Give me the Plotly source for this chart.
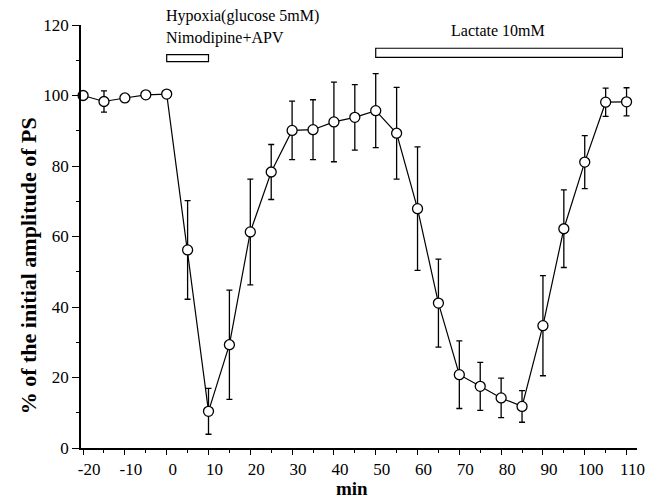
import plotly.graph_objects as go

# Time after start of recording (min)
minutes = [-20, -15, -10, -5, 0, 5, 10, 15, 20, 25, 30, 35, 40, 45, 50,
           55, 60, 65, 70, 75, 80, 85, 90, 95, 100, 105, 110]

# Population spike amplitude, % of initial value (mean)
ps_amplitude = [100.0, 98.3, 99.3, 100.2, 100.4, 56.2, 10.4, 29.3, 61.3, 78.3,
                90.1, 90.3, 92.5, 93.8, 95.7, 89.3, 67.9, 41.1, 20.8, 17.5,
                14.2, 11.8, 34.7, 62.2, 81.1, 98.1, 98.2]

# Standard error of the mean
ps_sem = [0.0, 3.0, 0.0, 0.0, 0.0, 14.0, 6.5, 15.5, 15.0, 7.8,
          8.3, 8.5, 11.3, 9.3, 10.5, 13.0, 17.5, 12.5, 9.6, 6.8,
          5.6, 4.5, 14.2, 11.0, 7.5, 4.0, 4.0]

x_ticks = list(range(-20, 111, 10))
y_ticks = list(range(0, 121, 20))

# Treatment periods (min)
hypoxia_period = [0, 10]
lactate_period = [50, 109]

SERIF = "Liberation Serif, Times New Roman, serif"
Y_MAX = 120

fig = go.Figure()
fig.add_trace(go.Scatter(
    x=minutes,
    y=ps_amplitude,
    mode="lines+markers",
    line=dict(color="black", width=1.2),
    marker=dict(symbol="circle", size=10, color="white",
                line=dict(color="black", width=1.3)),
    error_y=dict(type="data", array=ps_sem, visible=True,
                 color="black", thickness=1.3, width=3),
    showlegend=False,
    cliponaxis=False,
))

# Bars marking the drug application periods
fig.add_shape(type="rect", xref="x", yref="y",
              x0=hypoxia_period[0], x1=hypoxia_period[1], y0=109.6, y1=111.6,
              line=dict(color="black", width=1.2), fillcolor="white")
fig.add_shape(type="rect", xref="x", yref="y",
              x0=lactate_period[0], x1=lactate_period[1], y0=110.8, y1=113.4,
              line=dict(color="black", width=1.2), fillcolor="white")

label_font = dict(family=SERIF, size=16, color="black")
fig.add_annotation(text="Hypoxia(glucose 5mM)", xref="x", yref="paper",
                   x=-0.6, y=122.6 / Y_MAX, xanchor="left", yanchor="middle",
                   showarrow=False, font=label_font)
fig.add_annotation(text="Nimodipine+APV", xref="x", yref="paper",
                   x=-0.6, y=116.2 / Y_MAX, xanchor="left", yanchor="middle",
                   showarrow=False, font=label_font)
fig.add_annotation(text="Lactate 10mM", xref="x", yref="paper",
                   x=79.3, y=118.3 / Y_MAX, xanchor="center", yanchor="middle",
                   showarrow=False, font=label_font)

# Axis titles
fig.add_annotation(text="<b>% of the initial amplitude of PS</b>",
                   xref="paper", yref="paper", x=-0.095, y=0.43,
                   textangle=-90, showarrow=False,
                   xanchor="center", yanchor="middle",
                   font=dict(family=SERIF, size=22, color="black"))
fig.add_annotation(text="<b>min</b>", xref="paper", yref="paper",
                   x=0.488, y=-53 / 423, showarrow=False,
                   xanchor="center", yanchor="bottom",
                   font=dict(family=SERIF, size=19, color="black"))

fig.update_xaxes(
    range=[-20.5, 112.5],
    tickvals=x_ticks,
    ticktext=[str(v) for v in x_ticks],
    ticks="outside", ticklen=5, tickwidth=1.2, tickcolor="black",
    minor=dict(dtick=5, tick0=-20, ticks="outside", ticklen=3,
               tickwidth=1, tickcolor="black"),
    showline=True, linecolor="black", linewidth=1.5,
    showgrid=False, zeroline=False,
    ticklabelshift=6,
    ticklabelstandoff=0,
    tickfont=dict(family=SERIF, size=17, color="black"),
)
fig.update_yaxes(
    range=[0, Y_MAX],
    tickvals=y_ticks,
    ticktext=[str(v) for v in y_ticks],
    ticks="outside", ticklen=7, tickwidth=1.2, tickcolor="black",
    minor=dict(dtick=10, tick0=0, ticks="outside", ticklen=3,
               tickwidth=1, tickcolor="black"),
    showline=True, linecolor="black", linewidth=1.5,
    showgrid=False, zeroline=False,
    tickfont=dict(family=SERIF, size=17, color="black"),
)

fig.update_layout(
    width=657, height=501,
    margin=dict(l=81, r=20, t=25, b=53),
    paper_bgcolor="white", plot_bgcolor="white",
    font=dict(family=SERIF, color="black"),
)

fig.write_html("out.html")
